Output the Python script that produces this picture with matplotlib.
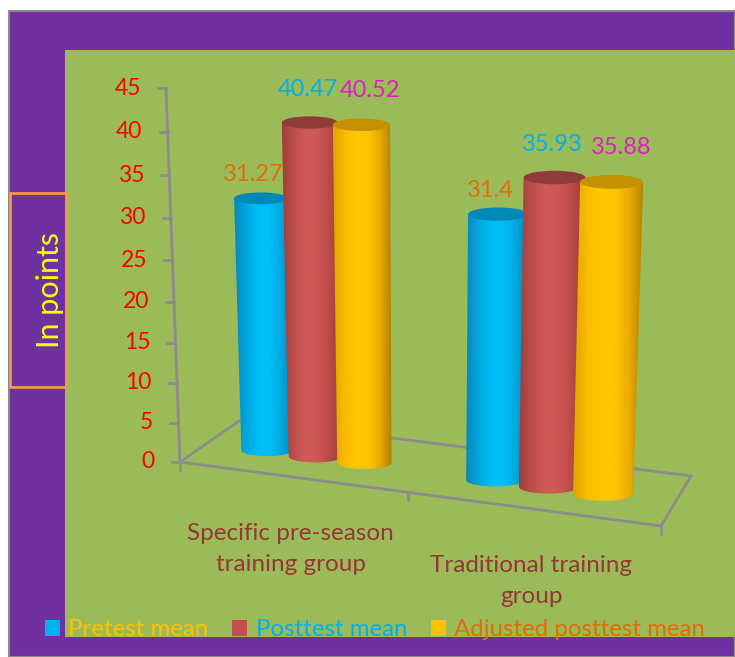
import numpy as np
import matplotlib
matplotlib.use("Agg")
import matplotlib.pyplot as plt
from matplotlib.patches import Rectangle, Polygon, Ellipse, Patch
from matplotlib.colors import LinearSegmentedColormap

# ---- data ----
categories = ["Specific pre-season\ntraining group", "Traditional training\ngroup"]
series_names = ["Pretest mean", "Posttest mean", "Adjusted posttest mean"]
pretest_mean = [31.27, 31.4]
posttest_mean = [40.47, 35.93]
adjusted_posttest_mean = [40.52, 35.88]
y_ticks = [0, 5, 10, 15, 20, 25, 30, 35, 40, 45]
y_axis_title = "In points"

series_values = [pretest_mean, posttest_mean, adjusted_posttest_mean]

# ---- styles ----
FONT = "Lato"
PURPLE = "#7030A0"
GREEN = "#9BBB59"
AXIS_GRAY = "#8C8C8C"
body_cmaps = [
    LinearSegmentedColormap.from_list("blue", ["#0a86b8", "#00a6de", "#00bdf6", "#00bff8", "#00a8e0", "#0088bc"]),
    LinearSegmentedColormap.from_list("red", ["#9c3e3b", "#bf4f4b", "#d05c58", "#cc5854", "#b84a47", "#9a3c39"]),
    LinearSegmentedColormap.from_list("gold", ["#e0a400", "#f8bc00", "#ffc800", "#ffc400", "#e8aa00", "#b08000"]),
]
top_colors = ["#0089b8", "#8e3b39", "#c49200"]
legend_colors = ["#00B0F0", "#C0504D", "#FFC000"]
legend_text_colors = ["#FFC000", "#00B0F0", "#E46C0A"]
value_label_colors = ["#E46C0A", "#00B0F0", "#E01EC4"]
label_dx = [-8, -2, 9]
label_dy = [-24, -33, -34]

W, H = 735, 657
fig = plt.figure(figsize=(W / 100, H / 100), dpi=100)
ax = fig.add_axes([0, 0, 1, 1])
ax.set_xlim(0, W)
ax.set_ylim(H, 0)
ax.axis("off")

# ---- frame and plot area ----
ax.add_patch(Rectangle((9, 11), W - 9, H - 11, facecolor=PURPLE,
                       edgecolor="#8a8a8a", linewidth=1.5, zorder=0))
ax.add_patch(Rectangle((65, 50), W - 65, 587, facecolor=GREEN,
                       edgecolor="none", zorder=0.5))


# ---- oblique 3-D projection of the chart floor/value space ----
def project(u, d, z):
    """u: position along the category axis, d: depth (0 front, 1 back), z: value."""
    v = u + 0.5
    t = v / 2.0
    fx = 180 + 215.5 * v + 12.5 * v * v
    fy = 462 + 0.133 * (fx - 180)
    bx = fx + d * (62 - 32 * t)
    by = fy + d * (-43 - 7 * t)
    h = (7.79 * z + 0.01156 * z * z) * (1 + 0.05 * v - 0.056 * d)
    x = bx + (bx - 420) * 0.0013 * z
    return x, by - h


# floor outline
u_lo, u_hi = -0.5, 1.5
corners = [project(u_lo, 0, 0), project(u_hi, 0, 0), project(u_hi, 1, 0), project(u_lo, 1, 0)]
ax.add_patch(Polygon(corners, closed=True, fill=False, edgecolor=AXIS_GRAY,
                     linewidth=2, zorder=1))
# category tick marks on the front edge
for uk in [u_lo, 0.5, u_hi]:
    x0, y0 = project(uk, 0, 0)
    ax.plot([x0, x0], [y0, y0 + 8], color=AXIS_GRAY, lw=2, zorder=1)

# value axis
xa0, ya0 = project(u_lo, 0, 0)
xa1, ya1 = project(u_lo, 0, max(y_ticks))
ax.plot([xa0, xa1], [ya0, ya1], color=AXIS_GRAY, lw=2, zorder=1)
for tv in y_ticks:
    xt, yt = project(u_lo, 0, tv)
    ax.plot([xt - 8, xt], [yt, yt], color=AXIS_GRAY, lw=2, zorder=1)
    ax.text(xt - 25, yt, str(tv), color="#FF0000", fontsize=16.5, family=FONT,
            ha="right", va="center", zorder=3)

# ---- cylinders ----
RU = 0.12
DU = 0.22
DEPTH = 0.45
grad = np.linspace(0, 1, 256).reshape(1, -1)


def draw_cylinder(u, z, s, zo):
    cxb, cyb = project(u, DEPTH, 0)
    cxt, cyt = project(u, DEPTH, z)
    rxb = (project(u + RU, DEPTH, 0)[0] - project(u - RU, DEPTH, 0)[0]) / 2
    rxt = (project(u + RU, DEPTH, z)[0] - project(u - RU, DEPTH, z)[0]) / 2
    ryb, ryt = 0.22 * rxb, 0.22 * rxt
    theta = np.linspace(0, np.pi, 60)
    pts = [(cxt - rxt, cyt), (cxt + rxt, cyt)]
    pts += list(zip(cxb + rxb * np.cos(theta), cyb + ryb * np.sin(theta)))
    body = Polygon(pts, closed=True, facecolor="none", edgecolor="none", zorder=zo)
    ax.add_patch(body)
    x_min = min(cxt - rxt, cxb - rxb)
    x_max = max(cxt + rxt, cxb + rxb)
    im = ax.imshow(grad, cmap=body_cmaps[s], aspect="auto",
                   extent=(x_min, x_max, cyb + ryb + 1, cyt - 1), zorder=zo,
                   interpolation="bilinear")
    im.set_clip_path(body)
    ax.add_patch(Ellipse((cxt, cyt), 2 * rxt, 2 * ryt, facecolor=top_colors[s],
                         edgecolor="none", zorder=zo + 0.01))
    return cxt, cyt


zo = 2.0
labels = []
for g in range(len(categories)):
    for s in range(len(series_values)):
        val = series_values[s][g]
        u = g + (s - 1) * DU
        cx, cy = draw_cylinder(u, val, s, zo)
        zo += 0.02
        labels.append((cx + label_dx[s], cy + label_dy[s], f"{val:g}", s))

for x, y, txt, s in labels:
    ax.text(x, y, txt, color=value_label_colors[s], fontsize=17, family=FONT,
            ha="center", va="center", zorder=5)

# ---- category labels ----
for g, name in enumerate(categories):
    x0, y0 = project(g, 0, 0)
    ax.text(x0, y0 + 72, name, color="#953735", fontsize=17.5, family=FONT,
            ha="center", va="center", multialignment="center",
            linespacing=1.6, zorder=3)

# ---- value-axis title box ----
ax.add_patch(Rectangle((10, 193), 56, 194, facecolor=PURPLE, edgecolor="#F79646",
                       linewidth=2, zorder=3))
ax.text(50, 290, y_axis_title, color="#FFFF00", fontsize=22, family=FONT,
        rotation=90, ha="center", va="center", zorder=4)

# ---- legend ----
handles = [Patch(facecolor=c, edgecolor="none") for c in legend_colors]
leg = ax.legend(handles, series_names, loc="center", ncol=3,
                bbox_to_anchor=(375 / W, 1 - 630 / H), bbox_transform=fig.transFigure,
                frameon=False, prop={"family": FONT, "size": 17.3},
                handlelength=0.62, handleheight=0.62, handletextpad=0.35,
                columnspacing=1.0, borderpad=0, borderaxespad=0)
for txt, c in zip(leg.get_texts(), legend_text_colors):
    txt.set_color(c)
leg.set_zorder(6)

fig.savefig("out.png", dpi=100, facecolor="white")
